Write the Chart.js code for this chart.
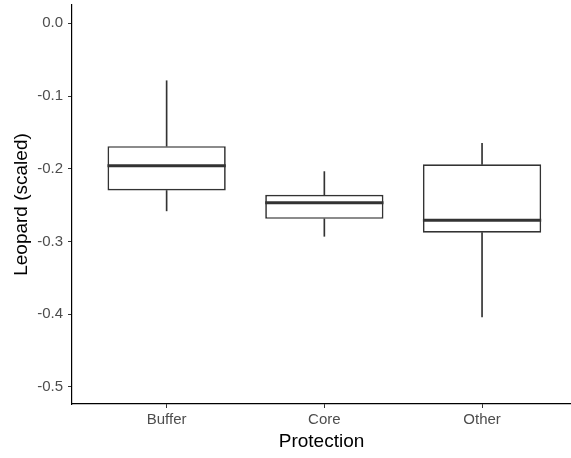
<!DOCTYPE html>
<html><head><meta charset="utf-8">
<script src="https://cdn.jsdelivr.net/npm/chart.js@4/dist/chart.umd.min.js"></script>
<style>html,body{margin:0;padding:0;background:#fff}</style>
</head><body>
<canvas id="c" width="571" height="458"></canvas>
<script>
const categories = ['Buffer', 'Core', 'Other'];
const whiskerLow = [-0.258, -0.293, -0.404];
const q1 = [-0.230, -0.269, -0.288];
const medians = [-0.196, -0.247, -0.271];
const q3 = [-0.169, -0.236, -0.194];
const whiskerHigh = [-0.079, -0.204, -0.165];
const yTicks = [0.0, -0.1, -0.2, -0.3, -0.4, -0.5];

const BOX_W = 0.75;
const INK = '#333333';
const FONT = "'Liberation Sans', Arial, sans-serif";

const pos = categories.map((c, i) => i + 1);

const medianPlugin = {
  id: 'medians',
  afterDatasetsDraw(chart) {
    const { ctx, scales: { x, y } } = chart;
    ctx.save();
    ctx.strokeStyle = INK;
    ctx.lineWidth = 3;
    ctx.lineCap = 'butt';
    medians.forEach((m, i) => {
      const xl = x.getPixelForValue(pos[i] - BOX_W / 2);
      const xr = x.getPixelForValue(pos[i] + BOX_W / 2);
      const yp = y.getPixelForValue(m);
      ctx.beginPath();
      ctx.moveTo(xl, yp);
      ctx.lineTo(xr, yp);
      ctx.stroke();
    });
    ctx.restore();
  }
};

function noPad(s) { s.paddingTop = 0; s.paddingBottom = 0; s.paddingLeft = 0; s.paddingRight = 0; }

new Chart(document.getElementById('c'), {
  type: 'bar',
  data: {
    datasets: [
      {
        label: 'lower whisker',
        data: pos.map((p, i) => ({ x: p, y: [whiskerLow[i], q1[i]] })),
        backgroundColor: INK, borderWidth: 0, barThickness: 1, grouped: false, order: 2
      },
      {
        label: 'upper whisker',
        data: pos.map((p, i) => ({ x: p, y: [q3[i], whiskerHigh[i]] })),
        backgroundColor: INK, borderWidth: 0, barThickness: 1, grouped: false, order: 2
      },
      {
        label: 'box',
        data: pos.map((p, i) => ({ x: p, y: [q1[i], q3[i]] })),
        backgroundColor: '#ffffff', borderColor: INK, borderWidth: 1.7, borderSkipped: false,
        categoryPercentage: 1, barPercentage: BOX_W, grouped: false, order: 1
      }
    ]
  },
  options: {
    responsive: false,
    animation: false,
    devicePixelRatio: 1,
    layout: { padding: { top: 5, left: 0, right: 0, bottom: 0 } },
    plugins: { legend: { display: false }, tooltip: { enabled: false } },
    scales: {
      x: {
        type: 'linear',
        min: 0.4, max: 3.564,
        offset: false,
        afterBuildTicks: (s) => { s.ticks = pos.map(v => ({ value: v })); },
        afterFit: (s) => { s.height = 54; noPad(s); },
        ticks: {
          callback: (v) => categories[v - 1],
          color: '#4D4D4D', font: { family: FONT, size: 15 }, padding: 3,
          maxRotation: 0, autoSkip: false
        },
        grid: { display: true, drawOnChartArea: false, drawTicks: true, tickLength: 4, color: INK, offset: false },
        border: { display: true, color: '#000000', width: 1.2 },
        title: { display: true, text: 'Protection', color: '#000000', font: { family: FONT, size: 19 }, padding: { top: 0, bottom: 5 } }
      },
      y: {
        type: 'linear',
        min: -0.5237, max: 0.0252,
        beginAtZero: false,
        afterBuildTicks: (s) => { s.ticks = yTicks.map(v => ({ value: v })); },
        afterFit: (s) => { s.width = 72; noPad(s); },
        ticks: {
          callback: (v) => Number(v).toFixed(1),
          color: '#4D4D4D', font: { family: FONT, size: 15 }, padding: 5
        },
        grid: { display: true, drawOnChartArea: false, drawTicks: true, tickLength: 4, color: INK },
        border: { display: true, color: '#000000', width: 1.2 },
        title: { display: true, text: 'Leopard (scaled)', color: '#000000', font: { family: FONT, size: 19 }, padding: { top: 10, bottom: 0 } }
      }
    }
  },
  plugins: [medianPlugin]
});
</script>
</body></html>
